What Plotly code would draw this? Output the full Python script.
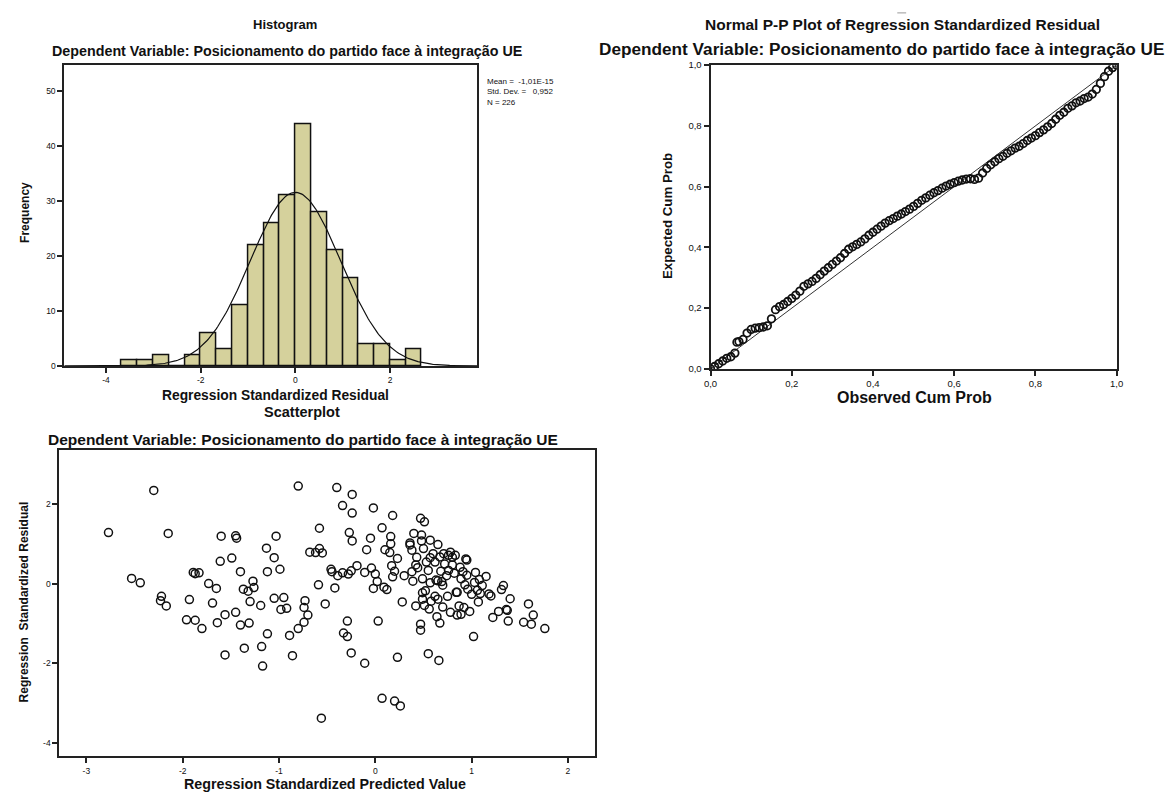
import plotly.graph_objects as go
import numpy as np

W, H = 1176, 795
FONT = "Liberation Sans, Arial, sans-serif"

# ---------------- data ----------------
hist_bin_centers = [-3.5, -3.1667, -2.8333, -2.5, -2.1667, -1.8333, -1.5, -1.1667,
                    -0.8333, -0.5, -0.1667, 0.1667, 0.5, 0.8333, 1.1667, 1.5,
                    1.8333, 2.1667, 2.5]
hist_counts = [1, 1, 2, 0, 2, 6, 3, 11, 22, 26, 31, 44, 28, 21, 16, 4, 4, 1, 3]
hist_bin_width = 1 / 3
resid_mean = -1.01e-15
resid_sd = 0.952
resid_n = 226

pp_observed = [0.00, 0.01, 0.02, 0.03, 0.04, 0.05, 0.06, 0.065, 0.07, 0.08, 0.09,
               0.10, 0.11, 0.12, 0.13, 0.14, 0.15, 0.16, 0.17, 0.18, 0.19, 0.20,
               0.21, 0.22, 0.23, 0.24, 0.25, 0.26, 0.27, 0.28, 0.29, 0.30, 0.31,
               0.32, 0.33, 0.34, 0.35, 0.36, 0.37, 0.38, 0.39, 0.40, 0.41, 0.42,
               0.43, 0.44, 0.45, 0.46, 0.47, 0.48, 0.49, 0.50, 0.51, 0.52, 0.53,
               0.54, 0.55, 0.56, 0.57, 0.58, 0.59, 0.60, 0.61, 0.62, 0.63, 0.64,
               0.65, 0.66, 0.67, 0.68, 0.69, 0.70, 0.71, 0.72, 0.73, 0.74, 0.75,
               0.76, 0.77, 0.78, 0.79, 0.80, 0.81, 0.82, 0.83, 0.84, 0.85, 0.86,
               0.87, 0.88, 0.89, 0.90, 0.91, 0.92, 0.93, 0.94, 0.95, 0.96, 0.97,
               0.98, 0.99, 1.00]
pp_expected = [0.000, 0.008, 0.017, 0.026, 0.035, 0.040, 0.052, 0.088, 0.090, 0.097, 0.118,
               0.130, 0.134, 0.136, 0.138, 0.142, 0.165, 0.195, 0.205, 0.212, 0.222, 0.232,
               0.243, 0.256, 0.272, 0.280, 0.288, 0.298, 0.310, 0.322, 0.333, 0.344, 0.355,
               0.366, 0.380, 0.394, 0.402, 0.410, 0.418, 0.428, 0.440, 0.450, 0.460, 0.470,
               0.480, 0.488, 0.495, 0.503, 0.510, 0.518, 0.526, 0.535, 0.545, 0.555, 0.563,
               0.572, 0.580, 0.587, 0.595, 0.602, 0.608, 0.613, 0.618, 0.622, 0.625, 0.626,
               0.624, 0.628, 0.645, 0.660, 0.672, 0.682, 0.692, 0.700, 0.710, 0.718, 0.727,
               0.733, 0.742, 0.752, 0.760, 0.768, 0.778, 0.787, 0.797, 0.808, 0.822, 0.835,
               0.845, 0.858, 0.866, 0.876, 0.882, 0.890, 0.895, 0.905, 0.920, 0.940, 0.962,
               0.980, 0.992, 1.000]

sc_predicted = [-2.77, -2.30, -2.53, -2.44, -2.22, -2.23, -2.17, -2.15, -1.93, -1.96, -1.87, -1.80,
                -1.89, -1.87, -1.83, -1.73, -1.69, -1.65, -1.64, -1.61, -1.60, -1.56, -1.56, -1.49,
                -1.45, -1.45, -1.44, -1.40, -1.40, -1.37, -1.36, -1.32, -1.31, -1.30, -1.27, -1.26,
                -1.19, -1.18, -1.17, -1.13, -1.12, -1.12, -1.05, -1.05, -1.03, -0.99, -0.98, -0.95,
                -0.92, -0.89, -0.86, -0.80, -0.80, -0.74, -0.73, -0.74, -0.70, -0.68, -0.62, -0.58,
                -0.58, -0.59, -0.55, -0.56, -0.52, -0.46, -0.45, -0.42, -0.40, -0.39, -0.34, -0.34,
                -0.33, -0.29, -0.29, -0.27, -0.28, -0.25, -0.25, -0.24, -0.24, -0.24, -0.19, -0.11,
                -0.11, -0.09, -0.05, -0.04, -0.02, -0.02, 0.00, 0.02, 0.03, 0.07, 0.07, 0.09,
                0.10, 0.12, 0.15, 0.16, 0.16, 0.17, 0.18, 0.18, 0.20, 0.20, 0.23, 0.23,
                0.26, 0.28, 0.30, 0.36, 0.36, 0.38, 0.38, 0.39, 0.40, 0.42, 0.42, 0.43,
                0.44, 0.47, 0.47, 0.47, 0.48, 0.48, 0.49, 0.49, 0.49, 0.50, 0.51, 0.51,
                0.52, 0.53, 0.55, 0.55, 0.56, 0.57, 0.57, 0.57, 0.58, 0.60, 0.62, 0.62,
                0.63, 0.64, 0.65, 0.65, 0.65, 0.66, 0.67, 0.67, 0.68, 0.69, 0.70, 0.70,
                0.71, 0.72, 0.74, 0.75, 0.76, 0.76, 0.78, 0.78, 0.80, 0.80, 0.82, 0.83,
                0.84, 0.85, 0.85, 0.87, 0.88, 0.89, 0.89, 0.91, 0.92, 0.93, 0.94, 0.95,
                0.95, 0.96, 0.98, 1.00, 1.02, 1.03, 1.04, 1.06, 1.07, 1.08, 1.09, 1.11,
                1.15, 1.18, 1.20, 1.22, 1.28, 1.31, 1.33, 1.36, 1.37, 1.38, 1.40, 1.54,
                1.59, 1.62, 1.64, 1.76]
sc_residual = [1.28, 2.34, 0.13, 0.02, -0.32, -0.43, -0.56, 1.26, -0.40, -0.91, -0.92, -1.13,
               0.28, 0.25, 0.27, 0.00, -0.49, -0.12, -0.98, 0.56, 1.19, -1.79, -0.78, 0.64,
               -0.72, 1.20, 1.14, -1.04, 0.30, -0.14, -1.62, -0.19, -0.99, -0.45, 0.06, -0.10,
               -0.55, -1.58, -2.07, 0.89, -1.26, 0.30, 0.65, -0.37, 1.19, 0.36, -0.65, -0.35,
               -0.62, -1.30, -1.81, -1.13, 2.45, -0.97, -0.43, -0.60, -0.79, 0.79, 0.78, 1.39,
               0.88, -0.03, 0.77, -3.38, -0.51, 0.36, 0.30, -0.11, 2.41, 0.20, 1.96, 0.27,
               -1.24, -0.94, -1.33, 1.28, 0.24, 0.32, -1.74, 1.77, 2.24, 1.07, 0.45, 0.28,
               -2.00, 0.85, 1.14, 0.39, -0.12, 1.90, 0.24, 0.05, -0.94, 1.40, -2.88, -0.09,
               0.85, -0.15, 0.78, 1.00, 1.18, 0.45, 0.17, 1.71, 0.31, -2.95, 0.63, -1.85,
               -3.07, -0.46, 0.20, 1.02, 0.97, 0.30, 0.84, 0.06, 1.26, -0.56, 0.47, 0.66,
               0.40, 1.64, -1.02, -1.17, 1.22, 1.07, -0.39, 0.12, -0.23, 0.88, -0.55, 1.55,
               -0.18, 0.54, 0.33, -1.76, -0.64, 1.09, 0.65, 0.02, -0.44, 0.75, 0.54, -0.32,
               0.09, -0.83, 0.98, -0.39, 0.07, -1.93, -0.99, 0.67, 0.31, 0.05, -0.59, -0.04,
               0.75, 0.49, 0.20, -0.32, 0.71, 0.33, -0.72, 0.79, 0.66, 0.47, 0.26, 0.71,
               -0.22, -0.79, -0.22, -0.56, 0.41, -0.77, 0.12, 0.30, -0.60, -0.03, 0.62, 0.59,
               0.21, -0.14, -0.70, -0.27, -1.33, 0.03, 0.28, -0.17, -0.46, 0.10, -0.25, -0.05,
               0.18, -0.26, -0.31, -0.85, -0.70, -0.15, -0.05, -0.65, -0.67, -0.94, -0.38, -0.97,
               -0.51, -1.02, -0.79, -1.13]

hist_xticks = [-4, -2, 0, 2]
hist_xticklabels = ["-4", "-2", "0", "2"]
hist_yticks = [0, 10, 20, 30, 40, 50]
pp_ticks = [0.0, 0.2, 0.4, 0.6, 0.8, 1.0]
pp_ticklabels = ["0,0", "0,2", "0,4", "0,6", "0,8", "1,0"]
sc_xticks = [-3, -2, -1, 0, 1, 2]
sc_xticklabels = ["-3", "-2", "-1", "0", "1", "2"]
sc_yticks = [-4, -2, 0, 2]
sc_yticklabels = ["-4", "-2", "0", "2"]

subtitle = "Dependent Variable: Posicionamento do partido face à integração UE"

# ---------------- figure ----------------
fig = go.Figure()

fig.add_trace(go.Bar(
    x=hist_bin_centers, y=hist_counts, width=hist_bin_width,
    marker=dict(color="#d5d19c", line=dict(color="#111111", width=1.5)),
    xaxis="x", yaxis="y", showlegend=False, hoverinfo="skip"))

hx_range = [-4.88, 3.84]
curve_x = np.linspace(hx_range[0], hx_range[1], 300)
curve_y = resid_n * hist_bin_width / (resid_sd * np.sqrt(2 * np.pi)) * \
    np.exp(-0.5 * ((curve_x - resid_mean) / resid_sd) ** 2)
fig.add_trace(go.Scatter(x=curve_x, y=curve_y, mode="lines",
                         line=dict(color="#111111", width=1.2),
                         xaxis="x", yaxis="y", showlegend=False, hoverinfo="skip"))

fig.add_trace(go.Scatter(x=[0, 1], y=[0, 1], mode="lines",
                         line=dict(color="#333333", width=1),
                         xaxis="x2", yaxis="y2", showlegend=False, hoverinfo="skip"))
fig.add_trace(go.Scatter(x=pp_observed, y=pp_expected, mode="markers",
                         marker=dict(symbol="circle-open", size=7.5, color="#111111",
                                     line=dict(color="#111111", width=1.8)),
                         xaxis="x2", yaxis="y2", showlegend=False, hoverinfo="skip"))

fig.add_trace(go.Scatter(x=sc_predicted, y=sc_residual, mode="markers",
                         marker=dict(symbol="circle-open", size=8, color="#111111",
                                     line=dict(color="#111111", width=1.5)),
                         xaxis="x3", yaxis="y3", showlegend=False, hoverinfo="skip"))


def ax(domain, rng, tickvals, ticktext=None, anchor=None, fs=8.5):
    d = dict(domain=domain, range=rng, tickvals=tickvals, showgrid=False, zeroline=False,
             showline=True, linecolor="#222222", linewidth=2, mirror=True,
             ticks="outside", ticklen=5, tickwidth=2, tickcolor="#222222",
             tickfont=dict(family=FONT, size=fs, color="#111111"), anchor=anchor,
             fixedrange=True)
    if ticktext is not None:
        d["ticktext"] = ticktext
    return d


def px(v):
    return v / W


def py(v):
    return 1 - v / H


fig.update_layout(
    width=W, height=H, margin=dict(l=0, r=0, t=0, b=0),
    paper_bgcolor="white", plot_bgcolor="white", bargap=0,
    xaxis=ax([px(58), px(476)], hx_range, hist_xticks, hist_xticklabels, anchor="y"),
    yaxis=ax([py(365), py(60)], [0, 54.7], hist_yticks, anchor="x"),
    xaxis2=ax([px(712), px(1123)], [0, 1], pp_ticks, pp_ticklabels, anchor="y2", fs=9.5),
    yaxis2=ax([py(368), py(60)], [0, 1], pp_ticks, pp_ticklabels, anchor="x2", fs=9.5),
    xaxis3=ax([px(53), px(595)], [-3.28, 2.28], sc_xticks, sc_xticklabels, anchor="y3"),
    yaxis3=ax([py(761), py(450)], [-4.34, 3.36], sc_yticks, sc_yticklabels, anchor="x3"),
)


def text(s, x, y, size, bold=True, angle=0, xanchor="center", yanchor="middle", align="center"):
    fig.add_annotation(text=f"<b>{s}</b>" if bold else s, x=px(x), y=py(y), xref="paper",
                       yref="paper", showarrow=False, textangle=angle, xanchor=xanchor,
                       yanchor=yanchor, align=align,
                       font=dict(family=FONT, size=size, color="#111111"))


text("Histogram", 281, 19, 13)
text(subtitle, 283, 46, 14.3)
text("Frequency", 18, 209, 12, angle=-90)
text("Regression Standardized Residual", 272, 395, 13.8)
text("Mean =  -1,01E-15<br>Std. Dev. =   0,952<br>N = 226", 484, 70, 8, bold=False,
     xanchor="left", yanchor="top", align="left")

text("Normal P-P Plot of Regression Standardized Residual", 906, 19, 15.5)
text(subtitle, 885, 44, 17.2)
text("Expected Cum Prob", 668, 213, 13.3, angle=-90)
text("Observed Cum Prob", 918, 397, 16)

text("Scatterplot", 299, 412, 14.5)
text(subtitle, 300, 440, 15.5)
text("Regression  Standardized Residual", 17, 604, 12, angle=-90)
text("Regression Standardized Predicted Value", 322, 789, 14.3)

fig.add_shape(type="line", xref="paper", yref="paper", x0=px(901), x1=px(910),
              y0=py(7), y1=py(7), line=dict(color="#999999", width=1))

fig.write_html("out.html")
